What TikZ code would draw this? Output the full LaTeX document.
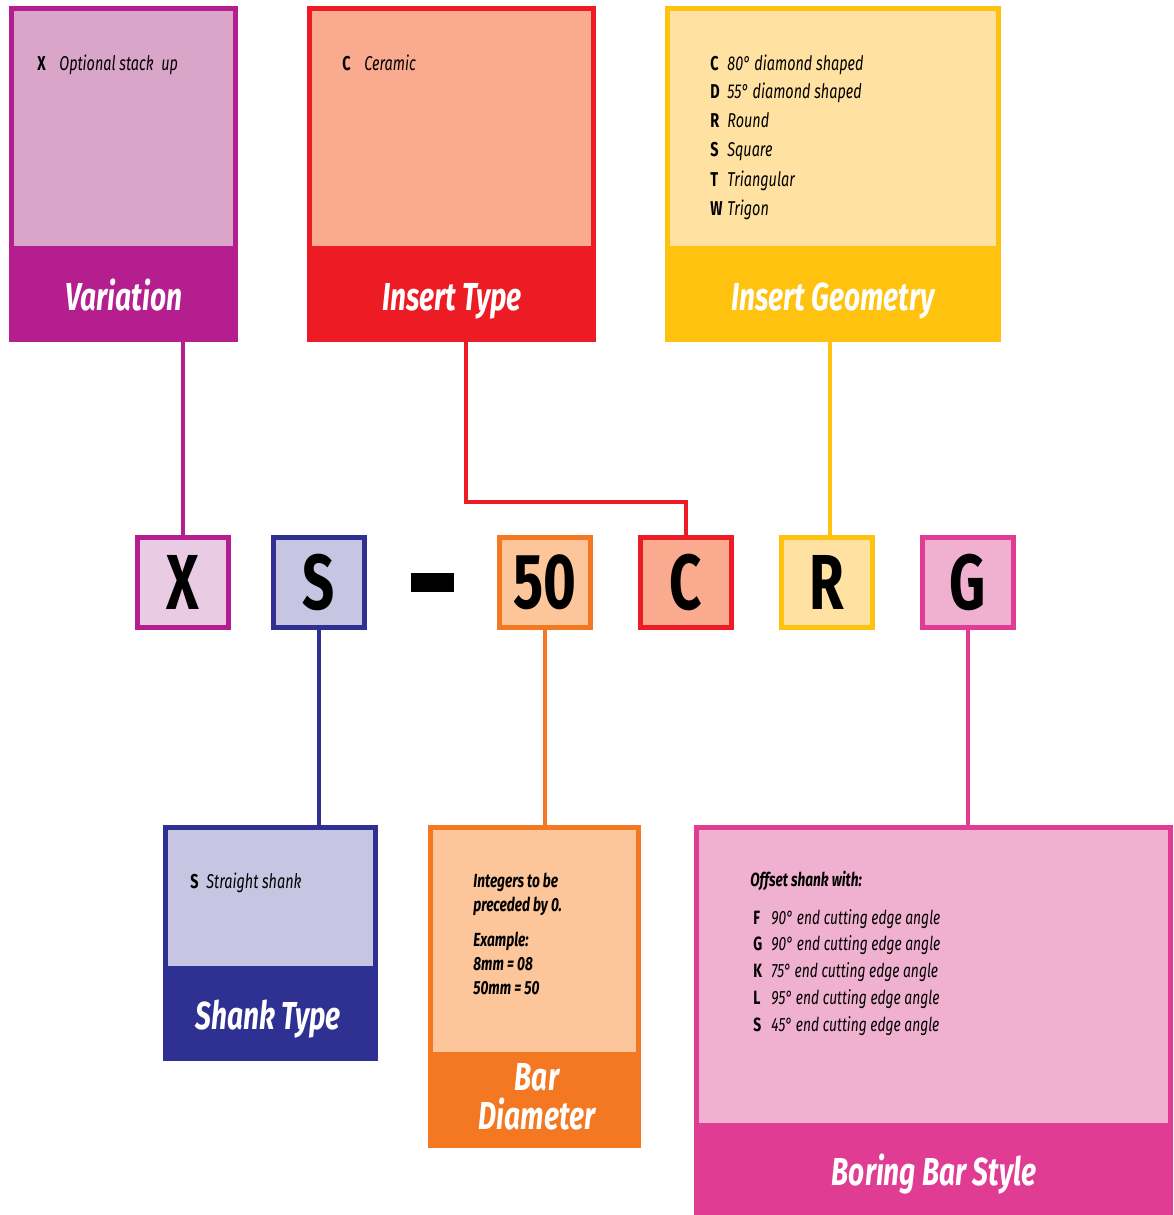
\documentclass[tikz,border=0pt]{standalone}
\usepackage{fontspec}
\setmainfont{Fira Sans}[FakeStretch=0.72]
\definecolor{vD}{HTML}{B41E8E}\definecolor{vL}{HTML}{D9A5C9}\definecolor{vS}{HTML}{E9CCE3}
\definecolor{iD}{HTML}{ED1C24}\definecolor{iL}{HTML}{F9AA8F}
\definecolor{gD}{HTML}{FFC20E}\definecolor{gL}{HTML}{FFE1A1}
\definecolor{sD}{HTML}{2E3192}\definecolor{sL}{HTML}{C6C6E3}
\definecolor{bD}{HTML}{F37821}\definecolor{bL}{HTML}{FCC59A}
\definecolor{pD}{HTML}{E03C94}\definecolor{pL}{HTML}{F0B1D0}
\begin{document}
\begin{tikzpicture}[x=0.5pt,y=-0.5pt,
  outer/.style={fill=#1, anchor=north west, inner sep=0pt, outer sep=0pt},
  inner/.style={fill=#1, anchor=north west, inner sep=0pt, outer sep=0pt},
  title/.style={text=white, anchor=base, inner sep=0pt, font=\fontsize{19.5}{17.5}\selectfont\bfseries\itshape},
  code/.style={draw=#1, line width=2.5pt, minimum width=45.5pt, minimum height=45pt, inner sep=0pt, font=\fontsize{39}{39}\selectfont\bfseries},
  conn/.style={line width=2pt},
  key/.style={anchor=base west, inner sep=0pt, font=\fontsize{10}{12}\selectfont\bfseries},
  desc/.style={anchor=base west, inner sep=0pt, font=\fontsize{10}{12}\selectfont\itshape},
  bkey/.style={anchor=base west, inner sep=0pt, font=\fontsize{9.6}{12}\selectfont\bfseries},
  bdesc/.style={anchor=base west, inner sep=0pt, font=\fontsize{9.6}{12}\selectfont\itshape},
  note/.style={anchor=base west, inner sep=0pt, font=\fontsize{9.5}{12}\selectfont\bfseries\itshape}]
\useasboundingbox (0,0) rectangle (1173,1215);
% top boxes
\node[outer=vD, minimum width=114.5pt, minimum height=168pt] (var) at (9,6) {};
\node[inner=vL, minimum width=109.5pt, minimum height=117.5pt] (varin) at (14,11) {};
\node[outer=iD, minimum width=144.5pt, minimum height=168pt] (ins) at (307,6) {};
\node[inner=iL, minimum width=139.5pt, minimum height=117.5pt] (insin) at (312,11) {};
\node[outer=gD, minimum width=168pt, minimum height=168pt] (geo) at (665,6) {};
\node[inner=gL, minimum width=163pt, minimum height=117.5pt] (geoin) at (670,11) {};
% bottom boxes
\node[outer=sD, minimum width=107.5pt, minimum height=118pt] (shk) at (163,825) {};
\node[inner=sL, minimum width=102.5pt, minimum height=68pt] (shkin) at (168,830) {};
\node[outer=bD, minimum width=106.5pt, minimum height=161.5pt] (bar) at (428,825) {};
\node[inner=bL, minimum width=101.5pt, minimum height=111pt] (barin) at (433,830) {};
\node[outer=pD, minimum width=239.5pt, minimum height=195pt] (bor) at (694,825) {};
\node[inner=pL, minimum width=234.5pt, minimum height=146.5pt] (borin) at (699,830) {};
% titles
\node[title] (vart) at (124,310) {Variation};
\node[title] (inst) at (452,310) {Insert Type};
\node[title] (geot) at (833,310) {Insert Geometry};
\node[title] (shkt) at (268,1029) {Shank Type};
\node[title, align=center, font=\fontsize{19.5}{19.5}\selectfont\bfseries\itshape] (bart) at (537,1129) {Bar\\Diameter};
\node[title] (bort) at (934,1185) {Boring Bar Style};
% code boxes
\node[code=vD, fill=vS] (xb) at (183,582.5) {X};
\node[code=sD, fill=sL] (sb) at (319,582.5) {S};
\node[fill=black, inner sep=0pt, minimum width=21.5pt, minimum height=9.5pt] (dash) at (432.5,582.5) {};
\node[code=bD, fill=bL] (fb) at (545,582.5) {50};
\node[code=iD, fill=iL] (cb) at (685.5,582.5) {C};
\node[code=gD, fill=gL] (rb) at (827,582.5) {R};
\node[code=pD, fill=pL] (gb) at (968,582.5) {G};
% connectors
\coordinate (jog) at (466,502);
\coordinate (rtop) at (830,535);
\draw[conn, draw=vD] (xb.north) -- (xb.north |- var.south);
\draw[conn, draw=iD] (ins.south -| jog) -- (jog) -| (cb.north);
\draw[conn, draw=gD] (rtop) -- (rtop |- geo.south);
\draw[conn, draw=sD] (sb.south) -- (sb.south |- shk.north);
\draw[conn, draw=bD] (fb.south) -- (fb.south |- bar.north);
\draw[conn, draw=pD] (gb.south) -- (gb.south |- bor.north);
% texts
\node[key] (vk) at (37,70) {X};
\node[desc] (vd) at (59,70) {Optional stack\ \ up};
\node[key] (ik) at (342,70) {C};
\node[desc] (id) at (364,70) {Ceramic};
\foreach \k/\d/\y [count=\i] in {C/{80° diamond shaped}/70, D/{55° diamond shaped}/98, R/{Round}/127, S/{Square}/156, T/{Triangular}/186, W/{Trigon}/215}{
  \node[key] (gk\i) at (710,\y) {\k};
  \node[desc] (gd\i) at (727,\y) {\d};
}
\node[key] (sk) at (190,888) {S};
\node[desc] (sd) at (206,888) {Straight shank};
\node[note] (b1) at (473,887) {Integers to be};
\node[note] (b2) at (473,911) {preceded by 0.};
\node[note] (b3) at (473,946) {Example:};
\node[note] (b4) at (473,970) {8mm = 08};
\node[note] (b5) at (473,994) {50mm = 50};
\node[note] (ph) at (750,886) {Offset shank with:};
\foreach \k/\d/\y [count=\i] in {F/{90° end cutting edge angle}/924, G/{90° end cutting edge angle}/950, K/{75° end cutting edge angle}/977, L/{95° end cutting edge angle}/1004, S/{45° end cutting edge angle}/1031}{
  \node[bkey] (pk\i) at (753,\y) {\k};
  \node[bdesc] (pd\i) at (771,\y) {\d};
}
\end{tikzpicture}
\end{document}
